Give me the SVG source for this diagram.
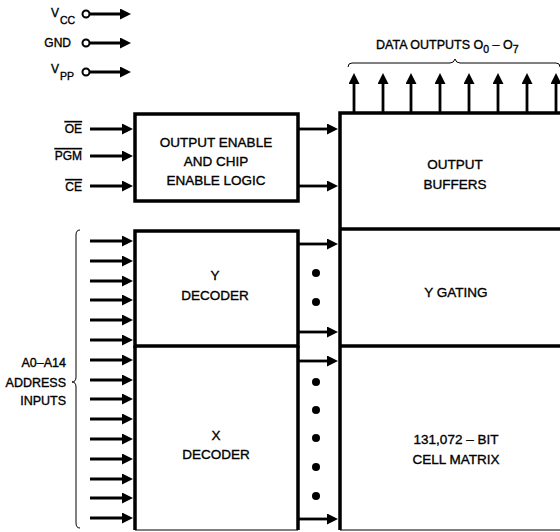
<svg xmlns="http://www.w3.org/2000/svg" width="560" height="532" viewBox="0 0 560 532">
<defs>
<marker id="ah" markerUnits="userSpaceOnUse" markerWidth="12" markerHeight="12" refX="3" refY="5.5" orient="auto">
<path d="M0,0 L11,5.5 L0,11 z" fill="#000"/>
</marker>
<style>
text{font-family:"Liberation Sans",Arial,sans-serif;fill:#000;stroke:#000;stroke-width:0.35;}
.lbl{font-size:13.5px;text-anchor:middle;}
.pin{font-size:12px;text-anchor:end;}
.sub{font-size:10.5px;}
.arr{stroke:#000;stroke-width:2.8;fill:none;marker-end:url(#ah);}
.box{stroke:#000;stroke-width:3.5;fill:none;}
.thin{stroke:#000;stroke-width:1;fill:none;}
.ol{text-decoration:overline;}
</style>
</defs>
<rect width="560" height="532" fill="#fff"/>

<g id="power-pins">
<text class="pin" x="59" y="17">V</text><text class="sub" x="60" y="24">CC</text>
<text class="pin" x="71" y="47">GND</text>
<text class="pin" x="59" y="73">V</text><text class="sub" x="60" y="80">PP</text>
<circle cx="86" cy="14" r="3.5" fill="#fff" stroke="#000" stroke-width="2"/>
<circle cx="86" cy="43" r="3.5" fill="#fff" stroke="#000" stroke-width="2"/>
<circle cx="86" cy="72" r="3.5" fill="#fff" stroke="#000" stroke-width="2"/>
</g>

<g id="data-outputs">
<text x="376" y="49" style="font-size:12.5px">DATA OUTPUTS O<tspan class="sub" dy="4">0</tspan><tspan dy="-4"> – O</tspan><tspan class="sub" dy="4">7</tspan></text>
<path class="thin" stroke-width="1.5" d="M348,67 Q348,63 352,63 L450,63 Q454,63 455,59 Q456,63 460,63 L556,63 Q560,63 560,67"/>
</g>

<g id="control-pins">
<text class="pin ol" x="82" y="133">OE</text>
<text class="pin ol" x="82" y="160">PGM</text>
<text class="pin ol" x="82" y="191">CE</text>
</g>

<g id="output-enable">
<rect class="box" x="135" y="114" width="163" height="87"/>
<text class="lbl" x="216" y="147">OUTPUT ENABLE</text>
<text class="lbl" x="216" y="166">AND CHIP</text>
<text class="lbl" x="216" y="185">ENABLE LOGIC</text>
</g>

<g id="output-buffers">
<path class="box" d="M340,530 L340,113 L562,113"/>
<text class="lbl" x="455" y="169">OUTPUT</text>
<text class="lbl" x="455" y="189">BUFFERS</text>
</g>

<g id="y-gating">
<path class="box" d="M340,229 L562,229"/>
<text class="lbl" x="456" y="297">Y GATING</text>
</g>

<g id="cell-matrix">
<path class="box" d="M340,346 L562,346"/>
<path class="thin" d="M340,530 L562,530"/>
<text class="lbl" x="456" y="444">131,072 – BIT</text>
<text class="lbl" x="456" y="464">CELL MATRIX</text>
</g>

<g id="y-decoder">
<path class="box" d="M135,346 L135,231 L298,231 L298,346 Z"/>
<text class="lbl" x="215" y="280">Y</text>
<text class="lbl" x="215" y="300">DECODER</text>
</g>

<g id="x-decoder">
<path class="box" d="M135,346 L135,530 M298,346 L298,530"/>
<path class="thin" d="M135,530 L298,530"/>
<text class="lbl" x="216" y="440">X</text>
<text class="lbl" x="216" y="459">DECODER</text>
</g>

<g id="address-inputs">
<text class="pin" x="66" y="367" style="font-size:12.5px">A0–A14</text>
<text class="pin" x="66" y="387" style="font-size:12.5px">ADDRESS</text>
<text class="pin" x="66" y="405" style="font-size:12.5px">INPUTS</text>
<path class="thin" stroke-width="1.5" d="M80,230 Q76,230 76,235 L76,377 Q76,382 72,382 Q76,382 76,387 L76,523 Q76,528 80,528"/>
</g>

<g id="connectors">
<line class="arr" x1="90" y1="14" x2="123" y2="14"/>
<line class="arr" x1="90" y1="43" x2="123" y2="43"/>
<line class="arr" x1="90" y1="72" x2="123" y2="72"/>

<line class="arr" x1="354" y1="113" x2="354" y2="81"/>
<line class="arr" x1="383" y1="113" x2="383" y2="81"/>
<line class="arr" x1="411" y1="113" x2="411" y2="81"/>
<line class="arr" x1="440" y1="113" x2="440" y2="81"/>
<line class="arr" x1="469" y1="113" x2="469" y2="81"/>
<line class="arr" x1="498" y1="113" x2="498" y2="81"/>
<line class="arr" x1="527" y1="113" x2="527" y2="81"/>
<line class="arr" x1="556" y1="113" x2="556" y2="81"/>

<line class="arr" x1="90" y1="129" x2="125" y2="129"/>
<line class="arr" x1="90" y1="156" x2="125" y2="156"/>
<line class="arr" x1="90" y1="186" x2="125" y2="186"/>

<line class="arr" x1="298" y1="129" x2="330" y2="129"/>
<line class="arr" x1="298" y1="186" x2="330" y2="186"/>

<line class="arr" x1="298" y1="244" x2="330" y2="244"/>
<line class="arr" x1="298" y1="332" x2="330" y2="332"/>
<line class="arr" x1="298" y1="361" x2="330" y2="361"/>
<line class="arr" x1="298" y1="519" x2="330" y2="519"/>

<line class="arr" x1="90" y1="241" x2="125" y2="241"/>
<line class="arr" x1="90" y1="261" x2="125" y2="261"/>
<line class="arr" x1="90" y1="281" x2="125" y2="281"/>
<line class="arr" x1="90" y1="300" x2="125" y2="300"/>
<line class="arr" x1="90" y1="320" x2="125" y2="320"/>
<line class="arr" x1="90" y1="340" x2="125" y2="340"/>
<line class="arr" x1="90" y1="360" x2="125" y2="360"/>
<line class="arr" x1="90" y1="380" x2="125" y2="380"/>
<line class="arr" x1="90" y1="399" x2="125" y2="399"/>
<line class="arr" x1="90" y1="419" x2="125" y2="419"/>
<line class="arr" x1="90" y1="439" x2="125" y2="439"/>
<line class="arr" x1="90" y1="459" x2="125" y2="459"/>
<line class="arr" x1="90" y1="479" x2="125" y2="479"/>
<line class="arr" x1="90" y1="498" x2="125" y2="498"/>
<line class="arr" x1="90" y1="518" x2="125" y2="518"/>

<circle cx="316" cy="273" r="4"/>
<circle cx="316" cy="302" r="4"/>
<circle cx="316" cy="382" r="4"/>
<circle cx="316" cy="410" r="4"/>
<circle cx="316" cy="438" r="4"/>
<circle cx="316" cy="467" r="4"/>
<circle cx="316" cy="496" r="4"/>
</g>
</svg>
